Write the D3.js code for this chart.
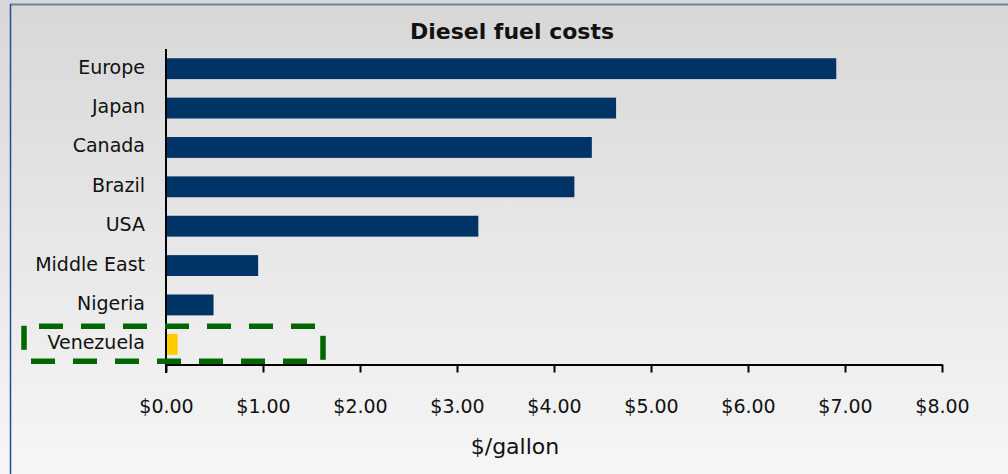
<!DOCTYPE html>
<html>
<head>
<meta charset="utf-8">
<script src="https://cdn.jsdelivr.net/npm/d3@7"></script>
<style>
  html, body { margin: 0; padding: 0; }
  svg { display: block; font-family: "DejaVu Sans", sans-serif; }
</style>
</head>
<body>
<div id="chart"></div>
<script>
// data
const countries = ["Europe", "Japan", "Canada", "Brazil", "USA", "Middle East", "Nigeria", "Venezuela"];
const prices = [6.91, 4.64, 4.39, 4.21, 3.22, 0.95, 0.49, 0.12];
const tickValues = [0, 1, 2, 3, 4, 5, 6, 7, 8];
const highlight = "Venezuela";

function init() {
    const w = 1008;
    const h = 474;

    const svg = d3.select("#chart")
        .append("svg")
        .attr("width", w)
        .attr("height", h);

    // background gradient
    const defs = svg.append("defs");
    const grad = defs.append("linearGradient")
        .attr("id", "bg")
        .attr("x1", 0).attr("y1", 0)
        .attr("x2", 0).attr("y2", 1);
    grad.append("stop").attr("offset", "0%").attr("stop-color", "#d7d7d7");
    grad.append("stop").attr("offset", "100%").attr("stop-color", "#f6f6f6");

    svg.append("rect")
        .attr("width", w)
        .attr("height", h)
        .attr("fill", "url(#bg)");

    // frame (only top and left visible)
    svg.append("line")
        .attr("x1", 10).attr("x2", w)
        .attr("y1", 4.5).attr("y2", 4.5)
        .attr("stroke", "#6f819b")
        .attr("stroke-width", 2);
    svg.append("line")
        .attr("x1", 10.5).attr("x2", 10.5)
        .attr("y1", 4).attr("y2", h)
        .attr("stroke", "#1f4f8f")
        .attr("stroke-width", 1.5);

    const x = d3.scaleLinear()
        .domain([0, 8])
        .range([166, 942]);

    const y = d3.scaleBand()
        .domain(countries)
        .range([49, 364])
        .paddingInner(0.47)
        .paddingOuter(0.235);

    // bars
    svg.selectAll("rect.bar")
        .data(countries)
        .enter()
        .append("rect")
        .attr("class", "bar")
        .attr("x", x(0))
        .attr("y", d => y(d))
        .attr("height", y.bandwidth())
        .attr("width", (d, i) => x(prices[i]) - x(0))
        .attr("fill", d => d === highlight ? "#ffcc00" : "#003366");

    // category labels
    svg.selectAll("text.cat")
        .data(countries)
        .enter()
        .append("text")
        .attr("class", "cat")
        .attr("x", x(0) - 21)
        .attr("y", d => y(d) + y.bandwidth() / 2 + 5)
        .attr("text-anchor", "end")
        .attr("font-size", "19px")
        .attr("fill", "#111")
        .text(d => d);

    // x axis
    const xAxis = svg.append("g")
        .attr("transform", "translate(0," + 364.5 + ")")
        .call(d3.axisBottom(x)
            .tickValues(tickValues)
            .tickSize(8)
            .tickSizeOuter(0)
            .tickFormat(d => "$" + d.toFixed(2)));
    xAxis.select(".domain")
        .attr("stroke", "#000")
        .attr("stroke-width", 2);
    xAxis.selectAll(".tick line")
        .attr("stroke", "#000")
        .attr("stroke-width", 2);
    xAxis.selectAll(".tick text")
        .attr("y", 48)
        .attr("dy", 0)
        .attr("font-size", "19px")
        .attr("font-family", "DejaVu Sans, sans-serif")
        .attr("fill", "#111");

    // y axis line
    svg.append("line")
        .attr("x1", x(0)).attr("x2", x(0))
        .attr("y1", 49).attr("y2", 373)
        .attr("stroke", "#000")
        .attr("stroke-width", 2);

    // title
    svg.append("text")
        .attr("x", 512)
        .attr("y", 39)
        .attr("text-anchor", "middle")
        .attr("font-size", "22px")
        .attr("font-weight", "bold")
        .attr("fill", "#111")
        .text("Diesel fuel costs");

    // axis title
    svg.append("text")
        .attr("x", 515)
        .attr("y", 454)
        .attr("text-anchor", "middle")
        .attr("font-size", "22px")
        .attr("fill", "#111")
        .text("$/gallon");

    // green dashed highlight box around Venezuela
    const cy = y(highlight) + y.bandwidth() / 2;
    const x0 = x(0);
    const box = svg.append("g")
        .attr("stroke", "#006600")
        .attr("stroke-width", 5.5)
        .attr("stroke-dasharray", "24,18")
        .attr("fill", "none");
    const segs = [
        [x0 - 127, cy - 18, x0 + 149, cy - 18],
        [x0 - 135, cy + 17, x0 + 141, cy + 17],
        [x0 - 142, cy - 18.5, x0 - 142, cy + 5.5],
        [x0 + 157, cy - 8.5, x0 + 157, cy + 15.5]
    ];
    box.selectAll("line")
        .data(segs)
        .enter()
        .append("line")
        .attr("x1", d => d[0]).attr("y1", d => d[1])
        .attr("x2", d => d[2]).attr("y2", d => d[3]);
}

window.onload = init;
</script>
</body>
</html>
